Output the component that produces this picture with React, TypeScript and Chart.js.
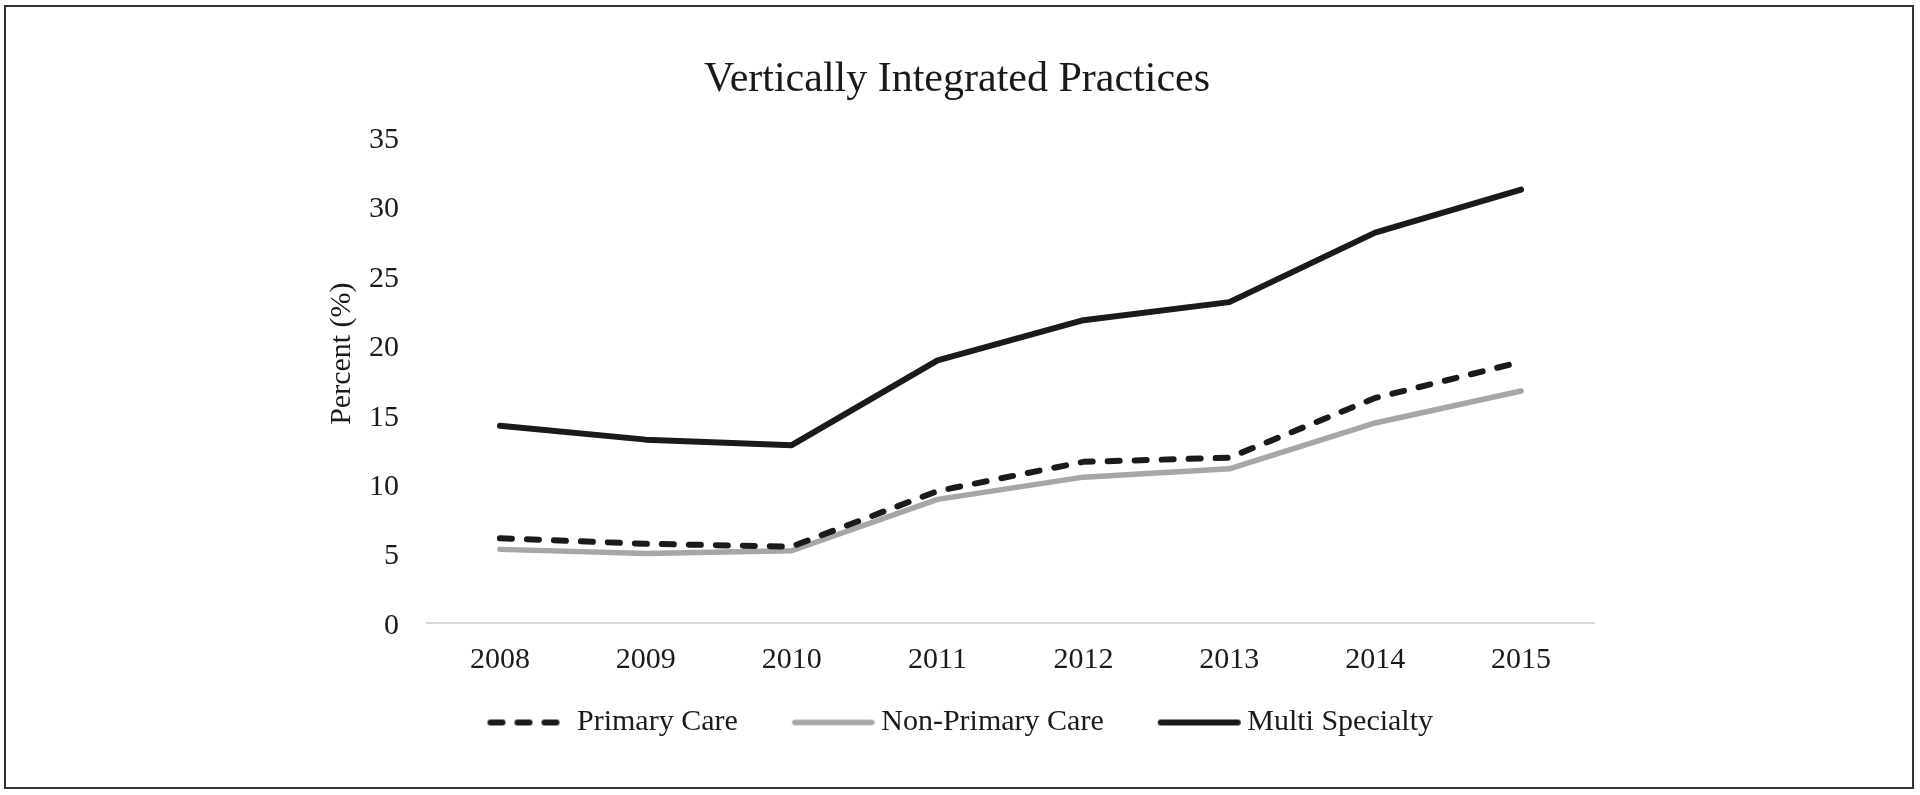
import { useEffect, useRef } from 'react';
import { Chart, registerables } from 'chart.js';

Chart.register(...registerables);

// ---- data ----
const years = ['2008', '2009', '2010', '2011', '2012', '2013', '2014', '2015'];
const primaryCare = [6.1, 5.7, 5.5, 9.5, 11.6, 11.9, 16.2, 18.8];
const nonPrimaryCare = [5.3, 5.0, 5.2, 8.9, 10.5, 11.1, 14.4, 16.7];
const multiSpecialty = [14.2, 13.2, 12.8, 18.9, 21.8, 23.1, 28.1, 31.2];
const seriesLabels = ['Primary Care', 'Non-Primary Care', 'Multi Specialty'];
const chartTitle = 'Vertically Integrated Practices';
const yAxisTitle = 'Percent (%)';
const yMin = 0;
const yMax = 35;
const yStep = 5;

// ---- styles ----
const FONT = "'Liberation Serif', 'Times New Roman', Times, serif";
const TEXT = '#1a1a1a';
const NBSP = '\u00a0';
const seriesStyles = [
  { color: '#1a1a1a', width: 6, dash: [12, 15] },
  { color: '#a6a6a6', width: 5.5, dash: [] as number[] },
  { color: '#1a1a1a', width: 6, dash: [] as number[] },
];

function makeSample(style: { color: string; width: number; dash: number[] }) {
  const c = document.createElement('canvas');
  c.width = 100;
  c.height = 12;
  const ctx = c.getContext('2d')!;
  ctx.strokeStyle = style.color;
  ctx.lineWidth = style.width;
  ctx.lineCap = 'round';
  ctx.setLineDash(style.dash);
  ctx.beginPath();
  ctx.moveTo(19, 6);
  ctx.lineTo(96, 6);
  ctx.stroke();
  return c;
}

export default function App() {
  const ref = useRef<HTMLCanvasElement | null>(null);

  useEffect(() => {
    if (!ref.current) return;
    const samples = seriesStyles.map(makeSample);
    const values = [primaryCare, nonPrimaryCare, multiSpecialty];
    const chart = new Chart(ref.current, {
      type: 'line',
      data: {
        labels: years,
        datasets: values.map((v, i) => ({
          label: seriesLabels[i],
          data: v,
          borderColor: seriesStyles[i].color,
          backgroundColor: seriesStyles[i].color,
          borderWidth: seriesStyles[i].width,
          borderDash: seriesStyles[i].dash,
          borderCapStyle: 'round',
          borderJoinStyle: 'round',
          pointRadius: 0,
          pointHoverRadius: 0,
          tension: 0,
          fill: false,
        })),
      },
      options: {
        responsive: false,
        animation: false,
        events: [],
        layout: { padding: { top: 0, left: 320, right: 326, bottom: 47.5 } },
        font: { family: FONT },
        plugins: {
          tooltip: { enabled: false },
          title: {
            display: true,
            text: chartTitle,
            color: TEXT,
            font: { family: FONT, size: 42, weight: 'normal' },
            padding: { top: 54.5, bottom: 31.9 },
          },
          legend: {
            position: 'bottom',
            labels: {
              usePointStyle: true,
              pointStyleWidth: 81,
              boxHeight: 30,
              padding: 10,
              color: TEXT,
              font: { family: FONT, size: 30 },
              generateLabels: (c: any) =>
                (Chart.defaults.plugins.legend.labels as any)
                  .generateLabels(c)
                  .map((it: any, i: number, arr: any[]) => ({
                    ...it,
                    text: i < arr.length - 1 ? it.text + NBSP.repeat(5) : it.text,
                    pointStyle: samples[i],
                  })),
            },
          },
        },
        scales: {
          x: {
            type: 'category',
            offset: true,
            grid: { display: false, drawTicks: false },
            border: { display: true, color: '#d9d9d9', width: 2 },
            ticks: {
              padding: 19.5,
              color: TEXT,
              font: { family: FONT, size: 30 },
              maxRotation: 0,
              autoSkip: false,
            },
            afterFit: (s: any) => {
              s.height = 74.5;
            },
          },
          y: {
            min: yMin,
            max: yMax,
            ticks: {
              stepSize: yStep,
              padding: 28,
              labelOffset: 3,
              color: TEXT,
              font: { family: FONT, size: 30 },
            },
            grid: { display: false, drawTicks: false },
            border: { display: false },
            title: {
              display: true,
              text: NBSP.repeat(7) + yAxisTitle,
              color: TEXT,
              font: { family: FONT, size: 30 },
              padding: { top: 4, bottom: 0 },
            },
            afterFit: (s: any) => {
              s.width = 107;
            },
          },
        },
      } as any,
    });
    return () => chart.destroy();
  }, []);

  return (
    <div
      style={{
        position: 'absolute',
        left: 0,
        top: 0,
        width: 1920,
        height: 795,
        background: '#ffffff',
      }}
    >
      <canvas ref={ref} width={1920} height={795} style={{ position: 'absolute', left: 0, top: 0 }} />
      <div
        style={{
          position: 'absolute',
          left: 4,
          top: 5,
          width: 1910,
          height: 784,
          border: '2px solid #333333',
          boxSizing: 'border-box',
          pointerEvents: 'none',
        }}
      />
    </div>
  );
}
